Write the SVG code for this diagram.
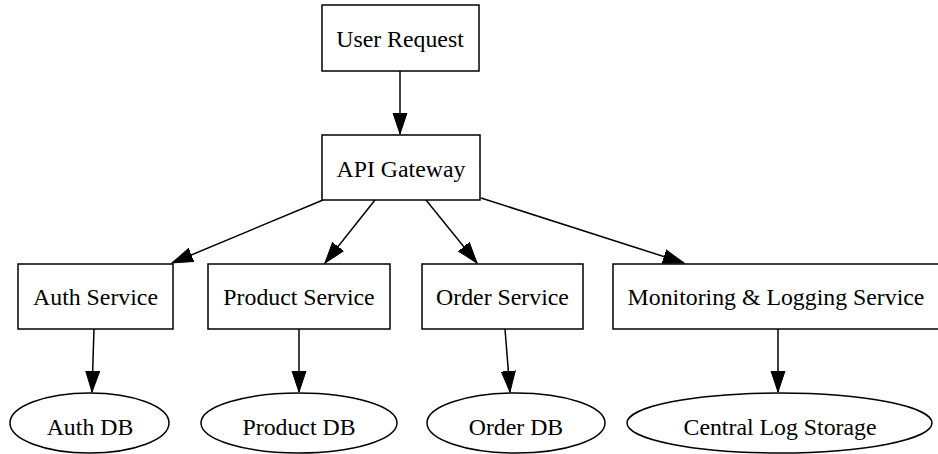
<svg xmlns="http://www.w3.org/2000/svg" width="938" height="454" viewBox="0 0 938 454">
  <style>
    .node rect, .node ellipse { fill: #ffffff; stroke: #000000; stroke-width: 1.5; }
    .node text { font-family: "Liberation Serif", "Times New Roman", serif; font-size: 23.8px; fill: #000000; text-anchor: middle; }
    .edges line { stroke: #000000; stroke-width: 1.5; marker-end: url(#arrow); }
  </style>
  <defs>
    <marker id="arrow" markerUnits="userSpaceOnUse" markerWidth="24" markerHeight="17" refX="21" refY="8" orient="auto">
      <path d="M0,1 L21,8 L0,15 z" fill="#000000" stroke="#000000" stroke-width="1"/>
    </marker>
  </defs>
  <rect width="938" height="454" fill="#ffffff"/>

  <g class="edges" id="connectors">
    <line x1="400" y1="71" x2="400" y2="134"/>
    <line x1="323" y1="200" x2="172" y2="263"/>
    <line x1="375" y1="200" x2="325" y2="263"/>
    <line x1="426" y1="200" x2="477" y2="263"/>
    <line x1="481" y1="198" x2="684" y2="263"/>
    <line x1="94" y1="329" x2="92" y2="392"/>
    <line x1="299" y1="329" x2="299" y2="392"/>
    <line x1="505" y1="329" x2="510" y2="392"/>
    <line x1="778" y1="329" x2="778" y2="392"/>
  </g>

  <g class="node" id="user-request">
    <rect x="322" y="5" width="157" height="66"/>
    <text x="400" y="47">User Request</text>
  </g>
  <g class="node" id="api-gateway">
    <rect x="322" y="135" width="158" height="65"/>
    <text x="401" y="177">API Gateway</text>
  </g>
  <g class="node" id="auth-service">
    <rect x="18" y="264" width="155" height="65"/>
    <text x="95.5" y="305">Auth Service</text>
  </g>
  <g class="node" id="product-service">
    <rect x="208" y="264" width="182" height="65"/>
    <text x="299" y="305">Product Service</text>
  </g>
  <g class="node" id="order-service">
    <rect x="422" y="264" width="161" height="65"/>
    <text x="502.5" y="305">Order Service</text>
  </g>
  <g class="node" id="monitoring-service">
    <rect x="613" y="264" width="331" height="65"/>
    <text x="776" y="305">Monitoring &amp; Logging Service</text>
  </g>
  <g class="node" id="auth-db">
    <ellipse cx="89.5" cy="423" rx="79.5" ry="30"/>
    <text x="90" y="435">Auth DB</text>
  </g>
  <g class="node" id="product-db">
    <ellipse cx="299" cy="423" rx="98" ry="30"/>
    <text x="299" y="435">Product DB</text>
  </g>
  <g class="node" id="order-db">
    <ellipse cx="516" cy="423" rx="89" ry="30"/>
    <text x="516" y="435">Order DB</text>
  </g>
  <g class="node" id="central-log-storage">
    <ellipse cx="779.5" cy="423" rx="152.5" ry="30"/>
    <text x="780" y="435">Central Log Storage</text>
  </g>
</svg>
